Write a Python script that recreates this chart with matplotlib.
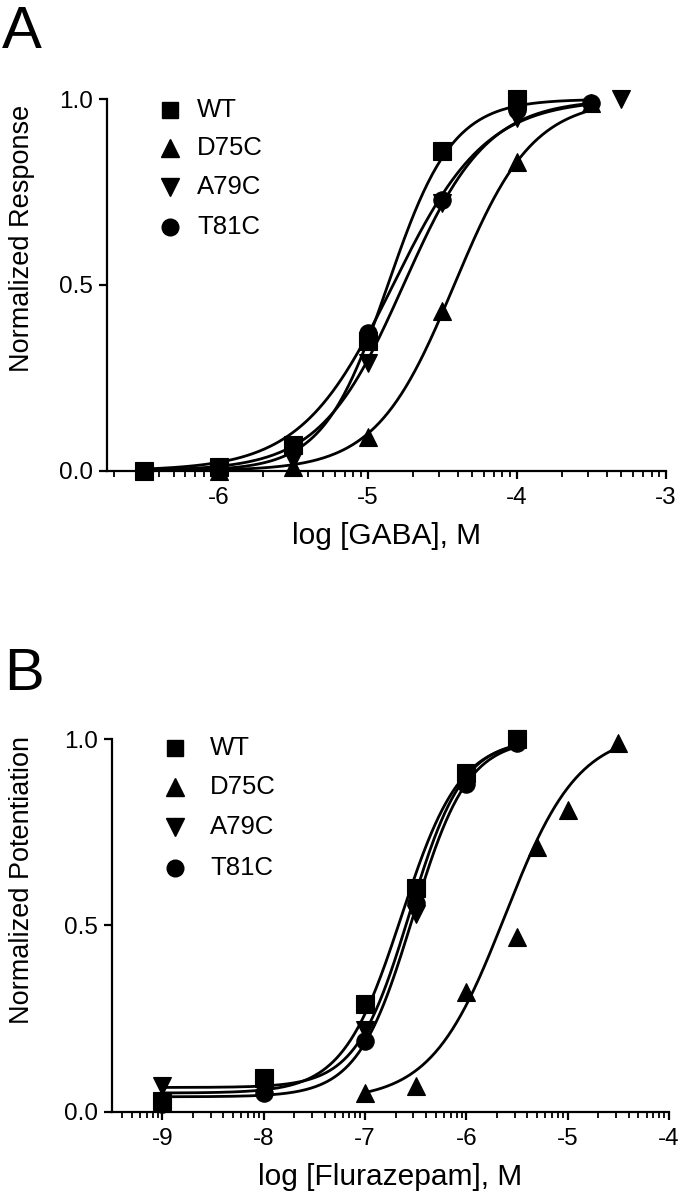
import numpy as np
import matplotlib
matplotlib.use("Agg")
import matplotlib.pyplot as plt
from matplotlib.lines import Line2D
from matplotlib.ticker import FixedLocator

plt.rcParams["font.family"] = ["Liberation Sans", "DejaVu Sans"]

W, H = 680, 1199

LABELS = ["WT", "D75C", "A79C", "T81C"]
MARKERS = ["s", "^", "v", "o"]
MSIZES = [12.5, 13, 13, 12.5]

# Panel A: GABA concentration-response (log M)
A_X = {
    "WT":   [-6.5, -6.0, -5.5, -5.0, -4.5, -4.0],
    "D75C": [-6.0, -5.5, -5.0, -4.5, -4.0, -3.5],
    "A79C": [-6.0, -5.5, -5.0, -4.5, -4.0, -3.3],
    "T81C": [-6.0, -5.5, -5.0, -4.5, -4.0, -3.5],
}
A_Y = {
    "WT":   [0.00, 0.01, 0.07, 0.35, 0.86, 1.00],
    "D75C": [0.00, 0.01, 0.09, 0.43, 0.83, 0.99],
    "A79C": [0.00, 0.03, 0.29, 0.72, 0.95, 1.00],
    "T81C": [0.01, 0.07, 0.37, 0.73, 0.97, 0.99],
}
# fitted Hill curves: bottom, top, logEC50, slope
A_FIT = {
    "WT":   (0.0, 1.0, -4.865, 2.0),
    "D75C": (0.0, 1.0, -4.42, 1.65),
    "A79C": (0.0, 1.0, -4.76, 1.55),
    "T81C": (0.0, 1.0, -4.83, 1.40),
}
A_RANGE = {k: (-6.5, -3.55) for k in LABELS}

# Panel B: flurazepam potentiation (log M)
B_X = {
    "WT":   [-9.0, -8.0, -7.0, -6.5, -6.0, -5.5],
    "D75C": [-7.0, -6.5, -6.0, -5.5, -5.3, -5.0, -4.5],
    "A79C": [-9.0, -8.0, -7.0, -6.5, -6.0, -5.5],
    "T81C": [-9.0, -8.0, -7.0, -6.5, -6.0, -5.5],
}
B_Y = {
    "WT":   [0.03, 0.09, 0.29, 0.60, 0.91, 1.00],
    "D75C": [0.05, 0.07, 0.32, 0.47, 0.71, 0.81, 0.99],
    "A79C": [0.07, 0.07, 0.22, 0.53, 0.90, 1.00],
    "T81C": [0.02, 0.05, 0.19, 0.56, 0.88, 0.99],
}
B_FIT = {
    "WT":   (0.05, 1.0, -6.64, 1.5),
    "D75C": (0.03, 1.02, -5.62, 1.2),
    "A79C": (0.065, 1.0, -6.56, 1.64),
    "T81C": (0.04, 1.0, -6.53, 1.6),
}
B_RANGE = {"WT": (-9, -5.5), "D75C": (-7, -4.5), "A79C": (-9, -5.5), "T81C": (-9, -5.5)}


def hill(x, bottom, top, ec, n):
    return bottom + (top - bottom) / (1 + 10 ** ((ec - x) * n))


def px_rect(left, right, y0, y1):
    # pixel box -> figure fraction
    return [left / W, 1 - y0 / H, (right - left) / W, (y0 - y1) / H]


def style_axis(ax, xlim):
    ax.set_xlim(*xlim)
    ax.set_ylim(0, 1)
    for s in ["top", "right"]:
        ax.spines[s].set_visible(False)
    for s in ["left", "bottom"]:
        ax.spines[s].set_linewidth(1.6)
    major = np.arange(np.ceil(xlim[0]), xlim[1] + 0.01, 1.0)
    minor = []
    for d in np.arange(np.floor(xlim[0]), xlim[1]):
        for k in range(2, 10):
            v = d + np.log10(k)
            if xlim[0] <= v <= xlim[1]:
                minor.append(v)
    ax.xaxis.set_major_locator(FixedLocator(major))
    ax.xaxis.set_minor_locator(FixedLocator(minor))
    ax.set_xticklabels([f"{int(v)}" for v in major])
    ax.set_yticks([0, 0.5, 1.0])
    ax.set_yticklabels(["0.0", "0.5", "1.0"])
    ax.tick_params(axis="both", which="major", direction="out", length=6, width=1.6,
                   labelsize=17.5)
    ax.tick_params(axis="x", which="major", pad=6)
    ax.tick_params(axis="y", which="major", pad=4)
    ax.tick_params(axis="x", which="minor", direction="out", length=4, width=1.3)


def draw_panel(ax, xs, ys, fits, ranges):
    for lab in LABELS:
        lo, hi = ranges[lab]
        xx = np.linspace(lo, hi, 300)
        ax.plot(xx, hill(xx, *fits[lab]), color="black", lw=2.0, clip_on=False, zorder=2)
    for lab, m, ms in zip(LABELS, MARKERS, MSIZES):
        ax.plot(xs[lab], ys[lab], linestyle="none", marker=m, ms=ms, color="black",
                mew=0.8, clip_on=False, zorder=3)


def legend(fig, mx, tx, rows):
    for lab, m, ms, ry in zip(LABELS, MARKERS, MSIZES, rows):
        fig.add_artist(Line2D([mx / W], [1 - ry / H], marker=m, ms=ms - 0.5, color="black",
                              linestyle="none", transform=fig.transFigure))
        fig.text(tx / W, 1 - ry / H, lab, fontsize=18.5, va="center", ha="left")


fig = plt.figure(figsize=(W / 100, H / 100), dpi=100)

axA = fig.add_axes(px_rect(106.7, 666, 470.7, 99.2))
style_axis(axA, (-6.75, -3))
draw_panel(axA, A_X, A_Y, A_FIT, A_RANGE)
axA.set_xlabel("log [GABA], M", fontsize=21.5, labelpad=9)
fig.text(22 / W, 1 - 238 / H, "Normalized Response", rotation=90, fontsize=19.5,
         ha="center", va="center")
legend(fig, 170, 197, [110, 148, 187, 227])
fig.text(2 / W, 1 - 48 / H, "A", fontsize=43, va="baseline", ha="left")

axB = fig.add_axes(px_rect(111.7, 669, 1111.7, 739))
style_axis(axB, (-9.5, -4))
draw_panel(axB, B_X, B_Y, B_FIT, B_RANGE)
axB.set_xlabel("log [Flurazepam], M", fontsize=21.5, labelpad=9)
fig.text(22 / W, 1 - 880 / H, "Normalized Potentiation", rotation=90, fontsize=19.5,
         ha="center", va="center")
legend(fig, 175, 210, [748, 787, 827, 868])
fig.text(4 / W, 1 - 690 / H, "B", fontsize=43, va="baseline", ha="left")

fig.savefig("out.png", dpi=100)
